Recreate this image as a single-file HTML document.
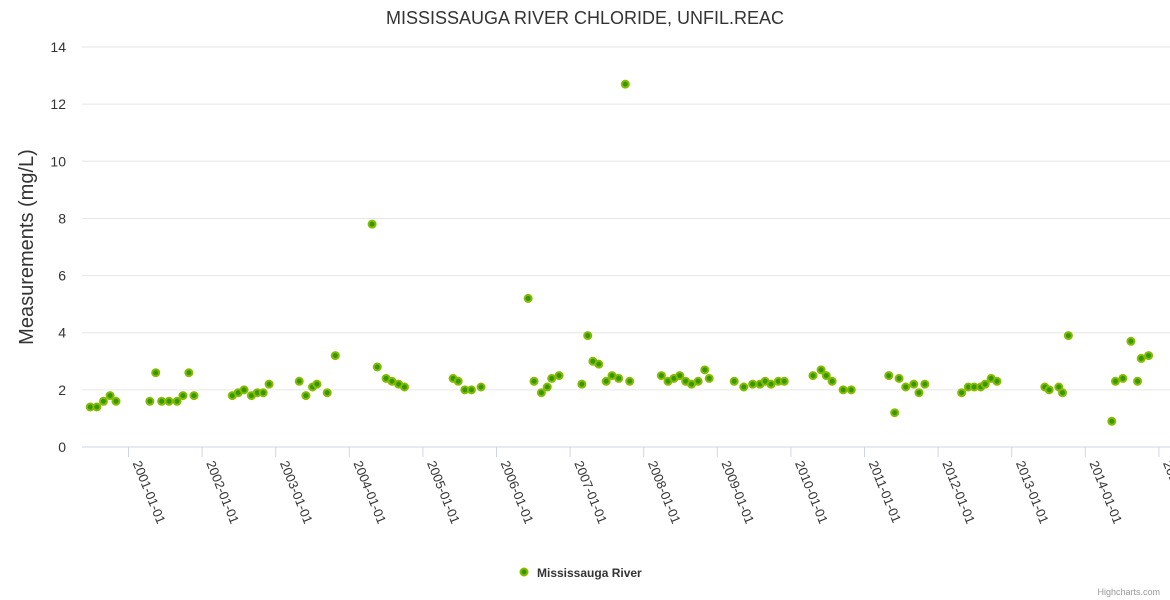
<!DOCTYPE html>
<html><head><meta charset="utf-8"><style>
html,body{margin:0;padding:0;background:#fff;}
svg{display:block;font-family:"Liberation Sans",sans-serif;}
</style></head><body>
<svg id="chart" width="1170" height="600">
<text x="585" y="24" text-anchor="middle" font-size="18" fill="#333">MISSISSAUGA RIVER CHLORIDE, UNFIL.REAC</text>
<text transform="translate(33,247) rotate(-90)" text-anchor="middle" font-size="20" fill="#333">Measurements (mg/L)</text>
<g id="grid"></g><g id="xaxis"></g><g id="pts"></g>
<g>
<circle cx="524" cy="572" r="3.5" fill="#339900" stroke="#88bb00" stroke-width="2"></circle>
<text x="537" y="577" font-size="12" font-weight="bold" fill="#333">Mississauga River</text>
</g>
<text x="1160" y="595" text-anchor="end" font-size="9" fill="#999">Highcharts.com</text>
</svg>
<script>
const years=[2000.48,2000.57,2000.66,2000.75,2000.83,2001.29,2001.37,2001.45,2001.55,2001.66,2001.74,2001.82,2001.89,2002.41,2002.49,2002.57,2002.67,2002.75,2002.83,2002.91,2003.32,2003.41,2003.50,2003.56,2003.70,2003.81,2004.31,2004.38,2004.50,2004.58,2004.67,2004.75,2005.41,2005.48,2005.57,2005.66,2005.79,2006.43,2006.51,2006.61,2006.69,2006.75,2006.85,2007.16,2007.24,2007.31,2007.39,2007.49,2007.57,2007.66,2007.75,2007.81,2008.24,2008.33,2008.41,2008.49,2008.57,2008.65,2008.74,2008.83,2008.89,2009.23,2009.36,2009.48,2009.58,2009.65,2009.73,2009.83,2009.91,2010.30,2010.41,2010.48,2010.56,2010.71,2010.82,2011.33,2011.41,2011.47,2011.56,2011.67,2011.74,2011.82,2012.32,2012.41,2012.49,2012.58,2012.64,2012.72,2012.80,2013.45,2013.51,2013.64,2013.69,2013.77,2014.36,2014.41,2014.51,2014.62,2014.71,2014.76,2014.86];
const values=[1.4,1.4,1.6,1.8,1.6,1.6,2.6,1.6,1.6,1.6,1.8,2.6,1.8,1.8,1.9,2.0,1.8,1.9,1.9,2.2,2.3,1.8,2.1,2.2,1.9,3.2,7.8,2.8,2.4,2.3,2.2,2.1,2.4,2.3,2.0,2.0,2.1,5.2,2.3,1.9,2.1,2.4,2.5,2.2,3.9,3.0,2.9,2.3,2.5,2.4,12.7,2.3,2.5,2.3,2.4,2.5,2.3,2.2,2.3,2.7,2.4,2.3,2.1,2.2,2.2,2.3,2.2,2.3,2.3,2.5,2.7,2.5,2.3,2.0,2.0,2.5,1.2,2.4,2.1,2.2,1.9,2.2,1.9,2.1,2.1,2.1,2.2,2.4,2.3,2.1,2.0,2.1,1.9,3.9,0.9,2.3,2.4,3.7,2.3,3.1,3.2];
const yTicks=[0,2,4,6,8,10,12,14];
const xTickYears=[2001,2002,2003,2004,2005,2006,2007,2008,2009,2010,2011,2012,2013,2014,2015];
const NS="http://www.w3.org/2000/svg";
const X=v=>128.5+(v-2001)*73.6, Y=v=>447-v*28.57;
function mk(tag,attrs,parent){const e=document.createElementNS(NS,tag);for(const k in attrs)e.setAttribute(k,attrs[k]);parent.appendChild(e);return e;}
const grid=document.getElementById('grid');
yTicks.forEach(t=>{
  const l=mk('line',{x1:82,x2:1170,y1:Y(t),y2:Y(t),stroke:t===0?'#ccd6eb':'#e6e6e6','stroke-width':1},grid);
  
  
  const tx=mk('text',{x:66,y:Y(t)+5,'text-anchor':'end','font-size':14,fill:'#333'},grid);
  tx.textContent=t;
  
  
});
const xa=document.getElementById('xaxis');
xTickYears.forEach(yr=>{
  const x=X(yr);
  const l=mk('line',{x1:x,x2:x,y1:447,y2:457,stroke:'#ccd6eb'},xa);
  
  
  const tx=mk('text',{transform:`translate(${x+4},463) rotate(68)`,'font-size':13,fill:'#333'},xa);
  tx.textContent=yr+'-01-01';
  
  
});
const pts=document.getElementById('pts');
years.forEach((yr,i)=>{
  const c=mk('circle',{cx:X(yr),cy:Y(values[i]),r:3.5,fill:'#339900',stroke:'#88bb00','stroke-width':2},pts);
  
  
});
</script>
</body></html>
